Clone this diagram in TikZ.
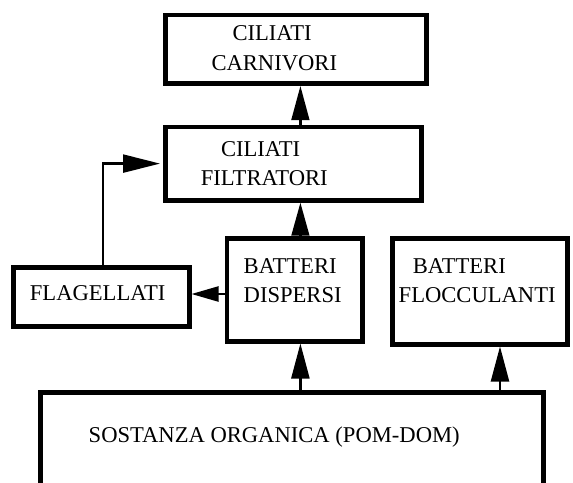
\documentclass[tikz,border=0pt]{standalone}
\usepackage{fontspec}
\setmainfont{Liberation Serif}
\usetikzlibrary{arrows.meta}
\begin{document}
\begin{tikzpicture}[x=1pt,y=-1pt,
  box/.style={draw, line width=4.7pt, rectangle, inner sep=0pt, outer sep=2.35pt},
  lbl/.style={anchor=base west, inner sep=0pt, font=\fontsize{22.6pt}{27pt}\selectfont},
  conn/.style={line width=2.3pt},
  tipA/.style={-{Triangle[length=35pt,width=18pt]}}]
\path[use as bounding box] (0,0) rectangle (573,482);
\clip (0,0) rectangle (573,482);
% boxes
\node[box, minimum width=261.3pt, minimum height=68.8pt] (carn) at (296,49.25) {};
\node[box, minimum width=256.3pt, minimum height=73.5pt] (filt) at (293.5,163.6) {};
\node[box, minimum width=175.8pt, minimum height=59.3pt] (flag) at (101.25,297) {};
\node[box, minimum width=135.8pt, minimum height=102.8pt] (disp) at (294.75,289.75) {};
\node[box, minimum width=175.3pt, minimum height=105.8pt] (floc) at (480,291.25) {};
\node[box, minimum width=503.3pt, minimum height=105.3pt] (sost) at (292,445) {};
% texts
\node[lbl] (carnA) at (232.3,40.7) {CILIATI};
\node[lbl] (carnB) at (211.3,70.7) {CARNIVORI};
\node[lbl] (filtA) at (220.8,156.7) {CILIATI};
\node[lbl] (filtB) at (200.7,185.5) {FILTRATORI};
\node[lbl] (dispA) at (243.5,273.3) {BATTERI};
\node[lbl] (dispB) at (243.5,302.7) {DISPERSI};
\node[lbl] (flocA) at (412.7,273.3) {BATTERI};
\node[lbl] (flocB) at (398.5,302.7) {FLOCCULANTI};
\node[lbl] (flagA) at (29.7,300) {FLAGELLATI};
\node[lbl] (sostA) at (88.5,442) {SOSTANZA ORGANICA (POM-DOM)};
% connector helpers
\coordinate (ax) at (300.4,0);
\coordinate (bx) at (500,0);
\coordinate (vx) at (102.9,0);
\coordinate (hy) at (0,294);
% connectors
\draw[conn, -{Triangle[length=34pt,width=17.7pt]}] (filt.north -| ax) -- (carn.south -| ax);
\draw[conn, -{Triangle[length=33pt,width=17.7pt]}] (disp.north -| ax) -- (filt.south -| ax);
\draw[conn, tipA] (sost.north -| ax) -- (disp.south -| ax);
\draw[conn, tipA] (sost.north -| bx) -- (floc.south -| bx);
\draw[conn, -{Triangle[length=27pt,width=15pt]}] (disp.west |- hy) -- (flag.east |- hy);
\draw[conn, -{Triangle[length=37pt,width=18pt]}, shorten >=3pt] (flag.north -| vx) |- (filt.west);
\end{tikzpicture}
\end{document}
